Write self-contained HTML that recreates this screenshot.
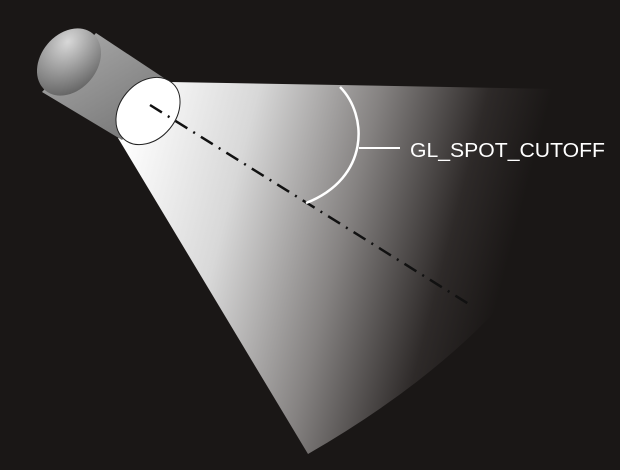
<!DOCTYPE html>
<html><head><meta charset="utf-8"><style>
html,body{margin:0;padding:0;background:#1a1716;}
svg{display:block;}
</style></head><body>
<svg width="620" height="470" viewBox="0 0 620 470">
<defs>
<linearGradient id="cone" gradientUnits="userSpaceOnUse" x1="130" y1="110" x2="590" y2="230">
<stop offset="0" stop-color="#ffffff"/>
<stop offset="0.25" stop-color="#d8d8d8"/>
<stop offset="0.5" stop-color="#858281"/>
<stop offset="0.72" stop-color="#2e2a29"/>
<stop offset="0.85" stop-color="#1a1716"/>
</linearGradient>
<linearGradient id="cyl" gradientUnits="userSpaceOnUse" x1="60" y1="40" x2="120" y2="140">
<stop offset="0" stop-color="#a8a8a8"/>
<stop offset="1" stop-color="#7a7a7a"/>
</linearGradient>
<radialGradient id="back" cx="0.7" cy="0.25" r="0.9">
<stop offset="0" stop-color="#d8d8d8"/>
<stop offset="1" stop-color="#5a5a5a"/>
</radialGradient>
</defs>
<rect width="620" height="470" fill="#1a1716"/>
<path d="M170,82 L615,90 Q575,300 308,454 L118,138 Z" fill="url(#cone)"/>
<path d="M96,33 L176,86 L122,140 L42,92 Z" fill="url(#cyl)"/>
<ellipse cx="69" cy="62" rx="37" ry="28" transform="rotate(-50 69 62)" fill="url(#back)"/>
<ellipse cx="148" cy="111" rx="37" ry="28" transform="rotate(-50 148 111)" fill="#ffffff" stroke="#222" stroke-width="1"/>
<line x1="150" y1="105" x2="472" y2="306" stroke="#111" stroke-width="2.5" stroke-dasharray="14,7,2,7"/>
<path d="M340,87 C368,115 370,178 306,203" fill="none" stroke="#fff" stroke-width="2.5"/>
<line x1="359" y1="148" x2="400" y2="148" stroke="#fff" stroke-width="2"/>
<text x="410" y="157" fill="#fff" font-family="Liberation Sans, sans-serif" font-size="20" textLength="195" lengthAdjust="spacingAndGlyphs">GL_SPOT_CUTOFF</text>
</svg>
</body></html>
